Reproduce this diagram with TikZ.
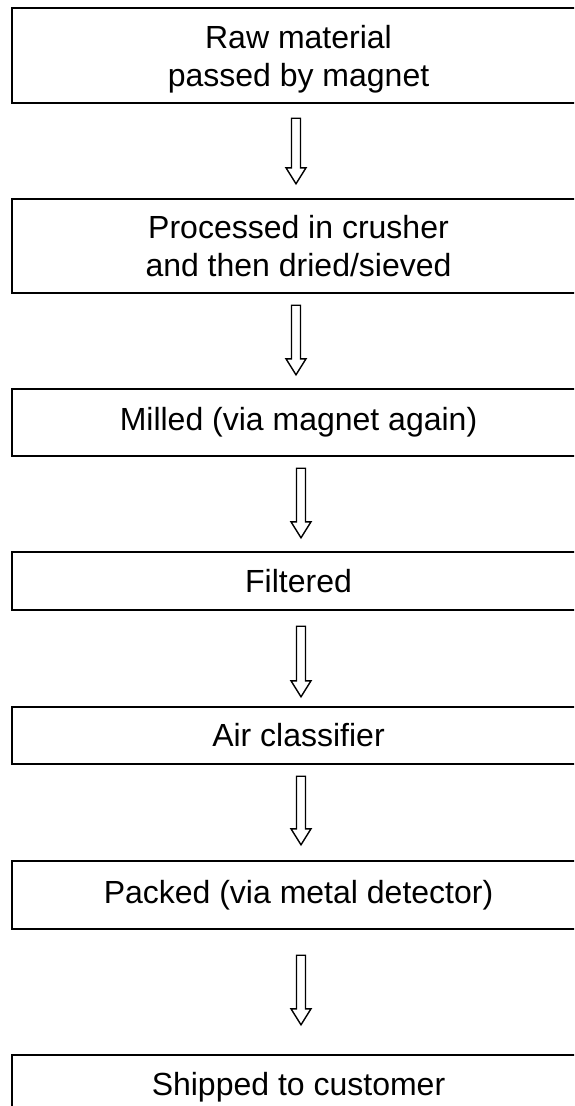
\documentclass[tikz,border=0pt]{standalone}
\usepackage{fontspec}
\setmainfont{Liberation Sans}
\usetikzlibrary{calc}

\tikzset{
  steptext/.style={align=center, inner sep=0pt, font=\fontsize{32}{38.5}\selectfont},
  stepframe/.style={draw=black, line width=1.8pt},
  blockarrow/.style={draw=black, line width=1.4pt, fill=white, line join=miter}
}
\newcommand\flowarrow[2]{\draw[blockarrow] let \p1=(#1), \p2=(#2) in
  (\x1-4.5pt,\y1) -- (\x1+4.5pt,\y1) -- (\x1+4.5pt,\y2+16pt) -- (\x1+10pt,\y2+16pt)
  -- (\x1,\y2) -- (\x1-10pt,\y2+16pt) -- (\x1-4.5pt,\y2+16pt) -- cycle;}

\begin{document}
\begin{tikzpicture}[x=1pt, y=-1pt]
\useasboundingbox (0,0) rectangle (574,1106);
\clip (0,0) rectangle (574,1106);
\coordinate (boxleft) at (12,0);
\coordinate (boxright) at (620,0);

\node[steptext, text depth=0pt, minimum height=94.5pt] (raw) at (298.5,55.75) {Raw material\\passed by magnet};
\node[steptext, minimum height=94pt] (crush) at (298.5,246) {Processed in crusher\\and then dried/sieved};
\node[steptext, minimum height=67pt] (mill) at (298.5,422.5) {Milled (via magnet again)};
\node[steptext, minimum height=58pt] (filter) at (298.5,581) {Filtered};
\node[steptext, minimum height=57pt] (air) at (298.5,735.5) {Air classifier};
\node[steptext, minimum height=68pt] (pack) at (298.5,895) {Packed (via metal detector)};
\node[steptext, minimum height=64pt] (ship) at (298.5,1087) {Shipped to customer};

\foreach \n in {raw,crush,mill,filter,air,pack,ship}
  \draw[stepframe] (\n.north -| boxleft) rectangle (\n.south -| boxright);

\foreach \a/\b/\dx/\s/\e in {raw/crush/-2.5/15/15, crush/mill/-2.5/12/14,
    mill/filter/2.5/12/14, filter/air/2.5/16/10, air/pack/2.5/12/16, pack/ship/2.5/26/30}
  \flowarrow{[xshift=\dx pt, yshift=-\s pt]\a.south}{[xshift=\dx pt, yshift=\e pt]\b.north};
\end{tikzpicture}
\end{document}
